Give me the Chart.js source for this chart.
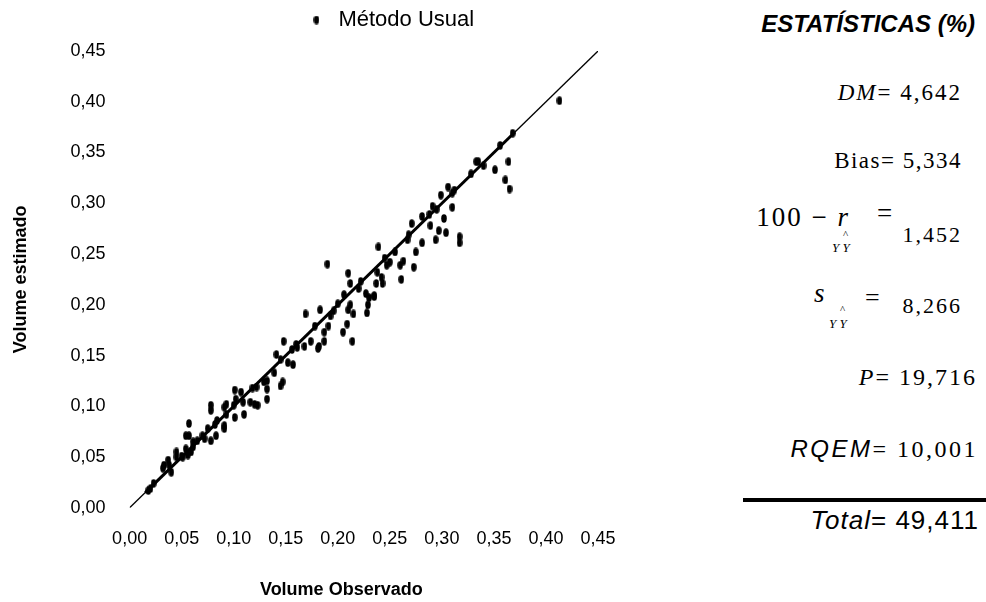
<!DOCTYPE html>
<html lang="pt">
<head>
<meta charset="utf-8">
<script src="https://cdn.jsdelivr.net/npm/chart.js@4.4.0/dist/chart.umd.min.js"></script>
<style>
  body { margin: 0; background: #fff; width: 986px; height: 602px; overflow: hidden; position: relative; font-family: "Liberation Sans", Arial, sans-serif; }
  #wrap { position: absolute; left: 0; top: 0; width: 730px; height: 602px; }
  .st { position: absolute; white-space: nowrap; line-height: 1; color: #000; }
  .serif { font-family: "Liberation Serif", "Times New Roman", serif; }
  .sans { font-family: "Liberation Sans", Arial, sans-serif; }
  .it { font-style: italic; }
</style>
</head>
<body>
<div id="wrap"><canvas id="chart"></canvas></div>

<!-- painel de estatisticas -->
<div class="st sans it" style="right:11px;top:12px;font-size:24px;font-weight:bold;">ESTATÍSTICAS (%)</div>
<div class="st serif" style="right:24px;top:81px;font-size:23px;letter-spacing:2px;"><span class="it">DM</span>= 4,642</div>
<div class="st serif" style="right:24px;top:149px;font-size:23px;letter-spacing:1.5px;">Bias= 5,334</div>

<div class="st serif" style="right:136px;top:204px;font-size:27px;letter-spacing:2px;">100 − <span class="it">r</span></div>
<div class="st serif it" style="left:832px;top:241px;font-size:13px;">Y Y</div>
<div class="st serif" style="left:843px;top:229px;font-size:11px;">^</div>
<div class="st serif" style="left:877px;top:200px;font-size:27px;">=</div>
<div class="st serif" style="right:24px;top:224px;font-size:22px;letter-spacing:2px;">1,452</div>

<div class="st serif it" style="left:814px;top:280px;font-size:27px;">s</div>
<div class="st serif it" style="left:829px;top:317px;font-size:13px;">Y Y</div>
<div class="st serif" style="left:840px;top:304px;font-size:11px;">^</div>
<div class="st serif" style="left:865px;top:285px;font-size:26px;">=</div>
<div class="st serif" style="right:24px;top:295px;font-size:22px;letter-spacing:2px;">8,266</div>

<div class="st serif" style="right:9px;top:365px;font-size:24px;letter-spacing:2px;"><span class="it">P</span>= 19,716</div>
<div class="st serif" style="right:8px;top:437px;font-size:24px;letter-spacing:2.5px;"><span class="sans it">RQEM</span>= 10,001</div>
<div style="position:absolute;left:743px;top:498px;width:243px;height:4px;background:#000;"></div>
<div class="st sans" style="right:7px;top:507px;font-size:26px;letter-spacing:1px;"><span class="it">Total</span>= 49,411</div>

<script>
// Volume observado (x) e volume estimado (y) - metodo usual
const obsX = [
  0.413, 0.333, 0.335, 0.340, 0.351, 0.364, 0.361, 0.365, 0.306, 0.299,
  0.310, 0.291, 0.295, 0.310, 0.281, 0.271, 0.289, 0.302, 0.297, 0.304,
  0.294, 0.281, 0.317, 0.317, 0.267, 0.275, 0.255, 0.239, 0.247, 0.260,
  0.263, 0.250, 0.273, 0.261, 0.190, 0.210, 0.238, 0.242, 0.212, 0.220,
  0.237, 0.243, 0.227, 0.235, 0.230, 0.206,
  0.169, 0.183, 0.196, 0.193, 0.210, 0.215, 0.228, 0.229, 0.235, 0.212,
  0.209, 0.205, 0.191, 0.187, 0.182, 0.181, 0.174, 0.187, 0.214, 0.168,
  0.161, 0.156, 0.148, 0.152, 0.157, 0.141, 0.139, 0.132, 0.129, 0.132,
  0.147, 0.145, 0.132, 0.122, 0.123, 0.120, 0.116, 0.109, 0.107, 0.101,
  0.102, 0.110, 0.093, 0.091, 0.093, 0.101, 0.091, 0.091, 0.084, 0.083,
  0.078, 0.078, 0.075, 0.078, 0.072, 0.057, 0.054, 0.057, 0.061, 0.061,
  0.054, 0.059, 0.056, 0.051, 0.045, 0.045, 0.037, 0.033, 0.038, 0.032,
  0.040, 0.023, 0.018, 0.020,
  0.050, 0.065, 0.070, 0.082, 0.100, 0.118, 0.145, 0.160, 0.178, 0.200,
  0.222, 0.245, 0.268, 0.288, 0.312, 0.328, 0.356, 0.368
];
const obsY = [
  0.401, 0.341, 0.341, 0.337, 0.333, 0.341, 0.323, 0.314, 0.316, 0.308,
  0.310, 0.297, 0.294, 0.296, 0.287, 0.280, 0.278, 0.285, 0.273, 0.271,
  0.264, 0.261, 0.267, 0.261, 0.264, 0.252, 0.252, 0.257, 0.239, 0.239,
  0.243, 0.242, 0.237, 0.225, 0.240, 0.231, 0.232, 0.227, 0.221, 0.216,
  0.221, 0.221, 0.211, 0.209, 0.207, 0.210,
  0.191, 0.195, 0.194, 0.189, 0.195, 0.191, 0.192, 0.200, 0.208, 0.200,
  0.181, 0.173, 0.179, 0.173, 0.159, 0.157, 0.164, 0.164, 0.164, 0.159,
  0.158, 0.156, 0.164, 0.143, 0.141, 0.151, 0.133, 0.125, 0.124, 0.117,
  0.124, 0.120, 0.107, 0.119, 0.101, 0.102, 0.104, 0.104, 0.114, 0.116,
  0.107, 0.092, 0.102, 0.099, 0.092, 0.089, 0.081, 0.078, 0.086, 0.071,
  0.101, 0.096, 0.078, 0.066, 0.068, 0.083, 0.071, 0.071, 0.065, 0.060,
  0.058, 0.055, 0.052, 0.050, 0.055, 0.050, 0.047, 0.042, 0.042, 0.039,
  0.035, 0.024, 0.017, 0.019,
  0.051, 0.066, 0.071, 0.082, 0.101, 0.118, 0.146, 0.161, 0.179, 0.201,
  0.223, 0.246, 0.269, 0.289, 0.313, 0.329, 0.357, 0.369
];

// reta 1:1 (fina) e trecho grosso
const refX = [0, 0.45];
const refY = [0, 0.45];
const thickX = [0.015, 0.37];
const thickY = [0.015, 0.37];

const yTicks = [0, 0.05, 0.10, 0.15, 0.20, 0.25, 0.30, 0.35, 0.40, 0.45];

// marcador eliptico como no original
const dot = document.createElement('canvas');
dot.width = 6;
dot.height = 9;
const dctx = dot.getContext('2d');
dctx.fillStyle = '#000';
dctx.beginPath();
dctx.ellipse(3, 4.5, 2.8, 4.2, 0, 0, Math.PI * 2);
dctx.fill();

const fmt = v => Number(v).toFixed(2).replace('.', ',');

// espaco entre a legenda e o grafico + legenda deslocada para a direita
const legendGap = {
  id: 'legendGap',
  beforeInit(chart) {
    const fit = chart.legend.fit;
    chart.legend.fit = function () {
      fit.bind(chart.legend)();
      this.height += 10;
    };
  },
  afterLayout(chart) {
    chart.legend.left += 26;
    chart.legend.right += 26;
  }
};

new Chart(document.getElementById('chart').getContext('2d'), {
  type: 'scatter',
  data: {
    datasets: [{
      label: 'Método Usual',
      data: obsX.map((x, i) => ({ x, y: obsY[i] })),
      pointStyle: dot,
      backgroundColor: '#000',
      borderColor: '#000',
      order: 0
    }, {
      type: 'line',
      label: 'linha',
      data: refX.map((x, i) => ({ x, y: refY[i] })),
      borderColor: '#000',
      borderWidth: 1.3,
      pointRadius: 0,
      order: 1
    }, {
      type: 'line',
      label: 'linha2',
      data: thickX.map((x, i) => ({ x, y: thickY[i] })),
      borderColor: '#000',
      borderWidth: 3,
      pointRadius: 0,
      order: 1
    }]
  },
  plugins: [legendGap],
  options: {
    responsive: true,
    maintainAspectRatio: false,
    animation: false,
    layout: { padding: { left: 10, right: 132, top: 1, bottom: 1 } },
    plugins: {
      tooltip: { enabled: false },
      legend: {
        position: 'top',
        fullSize: false,
        labels: {
          color: '#000',
          font: { family: '"Liberation Sans", Arial, sans-serif', size: 22 },
          usePointStyle: true,
          padding: 8,
          filter: item => item.datasetIndex === 0
        }
      }
    },
    scales: {
      x: {
        type: 'linear',
        min: 0,
        max: 0.45,
        grid: { display: false, drawTicks: false },
        border: { display: false },
        ticks: {
          stepSize: 0.05,
          padding: 20,
          color: '#000',
          font: { family: '"Liberation Sans", Arial, sans-serif', size: 18 },
          callback: v => fmt(v)
        },
        title: {
          display: true,
          // espacos finais deslocam o titulo para a esquerda como no original
          text: 'Volume Observado         ',
          color: '#000',
          padding: { top: 10, bottom: 0 },
          font: { family: '"Liberation Sans", Arial, sans-serif', size: 18, weight: 'bold' }
        }
      },
      y: {
        type: 'linear',
        min: 0,
        max: 0.45,
        afterBuildTicks: axis => { axis.ticks = yTicks.map(v => ({ value: v })); },
        grid: { display: false, drawTicks: false },
        border: { display: false },
        ticks: {
          padding: 24,
          color: '#000',
          font: { family: '"Liberation Sans", Arial, sans-serif', size: 18 },
          callback: v => fmt(v)
        },
        title: {
          display: true,
          text: 'Volume estimado',
          color: '#000',
          padding: { top: 0, bottom: 15 },
          font: { family: '"Liberation Sans", Arial, sans-serif', size: 18, weight: 'bold' }
        }
      }
    }
  }
});
</script>
</body>
</html>
